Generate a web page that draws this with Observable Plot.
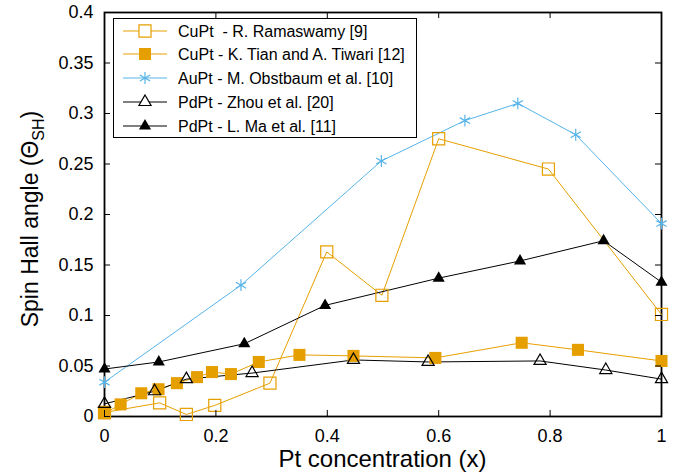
<!DOCTYPE html>
<html><head><meta charset="utf-8">
<script src="https://cdn.jsdelivr.net/npm/d3@7"></script>
<script src="https://cdn.jsdelivr.net/npm/@observablehq/plot@0.6"></script>
<style>
body{margin:0;background:#fff;font-family:"Liberation Sans",Arial,Helvetica,sans-serif;}
#wrap{position:relative;width:673px;height:474px;}
#legend{position:absolute;left:113px;top:18px;}
</style></head><body><div id="wrap"></div>
<script>
// ---- data ----
const ramX = [0, 0.099, 0.147, 0.198, 0.297, 0.399, 0.498, 0.6, 0.797, 1.0];
const ramY = [0.004, 0.0135, 0.002, 0.011, 0.033, 0.163, 0.12, 0.275, 0.245, 0.101];
const tianX = [0, 0.029, 0.066, 0.097, 0.13, 0.166, 0.193, 0.227, 0.277, 0.35, 0.447, 0.594, 0.749, 0.85, 1.0];
const tianY = [0.003, 0.012, 0.023, 0.027, 0.033, 0.039, 0.044, 0.042, 0.054, 0.061, 0.06, 0.058, 0.073, 0.066, 0.055];
const auX = [0, 0.245, 0.497, 0.647, 0.742, 0.846, 1.0];
const auY = [0.034, 0.130, 0.253, 0.293, 0.310, 0.279, 0.191];
const zhouX = [0, 0.09, 0.147, 0.265, 0.447, 0.581, 0.782, 0.9, 1.0];
const zhouY = [0.0125, 0.025, 0.037, 0.043, 0.056, 0.054, 0.055, 0.046, 0.037];
const maX = [0, 0.0975, 0.251, 0.396, 0.6, 0.746, 0.896, 1.0];
const maY = [0.047, 0.054, 0.072, 0.11, 0.137, 0.154, 0.174, 0.133];

const seriesNames = ["CuPt  - R. Ramaswamy [9]", "CuPt - K. Tian and A. Tiwari [12]", "AuPt - M. Obstbaum et al. [10]", "PdPt - Zhou et al. [20]", "PdPt - L. Ma et al. [11]"];
const xTicks = [0, 0.2, 0.4, 0.6, 0.8, 1];
const xTickLabels = ["0", "0.2", "0.4", "0.6", "0.8", "1"];
const yTicks = [0, 0.05, 0.1, 0.15, 0.2, 0.25, 0.3, 0.35, 0.4];
const yTickLabels = ["0", "0.05", "0.1", "0.15", "0.2", "0.25", "0.3", "0.35", "0.4"];
const xTitle = "Pt concentration (x)";

const orange = "#E69F00", blue = "#56B4E9", black = "#000000";
const zip = (xs, ys) => xs.map((x, i) => ({x, y: ys[i]}));
const ram = zip(ramX, ramY), tian = zip(tianX, tianY), au = zip(auX, auY), zhou = zip(zhouX, zhouY), ma = zip(maX, maY);

const series = [
  {data: ram, color: orange, symbol: "square", r: 6.8, fill: "none"},
  {data: tian, color: orange, symbol: "square", r: 6.8, fill: orange},
  {data: au, color: blue, symbol: "asterisk", r: 5.6, fill: "none"},
  {data: zhou, color: black, symbol: "triangle", r: 4.5, fill: "none"},
  {data: ma, color: black, symbol: "triangle", r: 4.5, fill: black}
];

const tLenY = 0.006, tLenX = 0.0108;
const marks = [Plot.frame({stroke: "#000", strokeWidth: 1.8})];
for (const s of series) {
  marks.push(Plot.line(s.data, {x: "x", y: "y", stroke: s.color, strokeWidth: 1}));
}
for (const s of series) {
  marks.push(Plot.dot(s.data, {x: "x", y: "y", symbol: () => s.symbol, r: s.r,
    stroke: s.fill === "none" || s.symbol === "asterisk" ? s.color : "none",
    fill: s.symbol === "asterisk" ? "none" : s.fill, strokeWidth: 1.2}));
}
marks.push(
  Plot.ruleX(xTicks, {x: d => d, y1: 0, y2: tLenY, stroke: "#000"}),
  Plot.ruleX(xTicks, {x: d => d, y1: 0.4 - tLenY, y2: 0.4, stroke: "#000"}),
  Plot.ruleY(yTicks, {y: d => d, x1: 0, x2: tLenX, stroke: "#000"}),
  Plot.ruleY(yTicks, {y: d => d, x1: 1 - tLenX, x2: 1, stroke: "#000"}),
  Plot.axisX(xTicks, {tickSize: 0, tickPadding: 13, fontSize: 18, fill: "#000",
    tickFormat: d => xTickLabels[xTicks.indexOf(d)], label: null}),
  Plot.axisY(yTicks, {tickSize: 0, tickPadding: 11, fontSize: 18, fill: "#000",
    tickFormat: d => yTickLabels[yTicks.indexOf(d)], label: null})
);

const plot = Plot.plot({
  width: 673, height: 474,
  marginLeft: 104, marginRight: 12, marginTop: 12, marginBottom: 58,
  x: {domain: [0, 1]},
  y: {domain: [0, 0.4]},
  style: {fontFamily: '"Liberation Sans", Arial, Helvetica, sans-serif', color: "#000", background: "#fff"},
  marks
});

const svg = d3.select(plot);
// axis titles
svg.append("text").attr("x", 382.5).attr("y", 467).attr("text-anchor", "middle")
  .attr("font-size", 24).attr("fill", "#000").text(xTitle);
const yt = svg.append("text").attr("transform", "translate(38,219) rotate(-90)")
  .attr("text-anchor", "middle").attr("font-size", 23).attr("fill", "#000");
yt.append("tspan").text("Spin Hall angle (\u0398");
yt.append("tspan").attr("font-size", 16).attr("dy", 6).text("SH");
yt.append("tspan").attr("dy", -6).text(")");

const wrap = document.getElementById("wrap");
wrap.appendChild(plot);

// legend
const lw = 304, lh = 120;
const leg = d3.create("svg").attr("id", "legend").attr("width", lw).attr("height", lh);
leg.append("rect").attr("x", 0.5).attr("y", 0.5).attr("width", lw - 1).attr("height", lh - 1)
  .attr("fill", "#fff").attr("stroke", "#000").attr("stroke-width", 1);
const symMap = {square: d3.symbolSquare, asterisk: d3.symbolAsterisk, triangle: d3.symbolTriangle};
const rowY = [13, 36, 60, 84, 108];
series.forEach((s, i) => {
  const g = leg.append("g").attr("transform", `translate(0,${rowY[i]})`);
  g.append("line").attr("x1", 10).attr("x2", 54).attr("stroke", s.color).attr("stroke-width", 1);
  const isStroke = s.fill === "none" || s.symbol === "asterisk";
  g.append("path").attr("transform", "translate(32,0)")
    .attr("d", d3.symbol(symMap[s.symbol], Math.PI * s.r * s.r)())
    .attr("fill", s.symbol === "asterisk" ? "none" : (s.fill === "none" ? "#fff" : s.fill))
    .attr("stroke", isStroke ? s.color : "none").attr("stroke-width", 1.2);
  g.append("text").attr("x", 65).attr("y", 6).attr("font-size", 16).attr("fill", "#000")
    .style("white-space", "pre").attr("xml:space", "preserve").text(seriesNames[i]);
});
wrap.appendChild(leg.node());
</script>
</body></html>
